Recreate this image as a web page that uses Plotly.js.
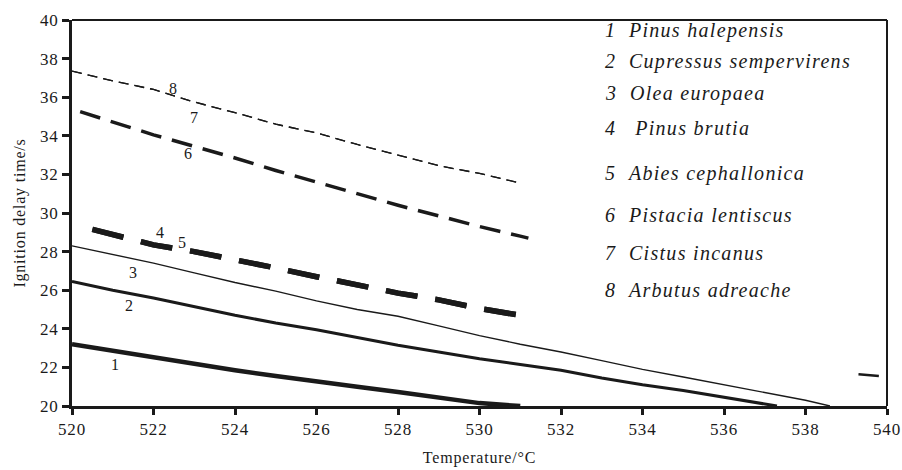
<!DOCTYPE html>
<html>
<head>
<meta charset="utf-8">
<script src="https://cdn.plot.ly/plotly-3.0.1.min.js"></script>
<style>
html,body{margin:0;padding:0;background:#fff;}
#chart .annotation-text.leg{letter-spacing:1.3px;}
#chart .xtitle, #chart .ytitle{letter-spacing:0.8px;}
#chart .xtick text, #chart .ytick text{letter-spacing:0.8px;}
</style>
</head>
<body>
<div id="chart" style="width:902px;height:470px;"></div>
<script>
// Data
const x1 = [520, 521, 522, 523, 524, 525, 526, 527, 528, 529, 530, 531];
const y1 = [23.2, 22.85, 22.55, 22.2, 21.85, 21.55, 21.3, 21.0, 20.73, 20.45, 20.15, 20.0];

const x2 = [520, 521, 522, 523, 524, 525, 526, 527, 528, 529, 530, 531, 532, 533, 534, 535, 536, 537, 537.3];
const y2 = [26.45, 26.0, 25.6, 25.15, 24.7, 24.3, 23.95, 23.55, 23.15, 22.8, 22.45, 22.15, 21.85, 21.45, 21.1, 20.8, 20.45, 20.1, 20.0];

const x3 = [520, 521, 522, 523, 524, 525, 526, 527, 528, 529, 530, 531, 532, 533, 534, 535, 536, 537, 538, 538.6];
const y3 = [28.3, 27.85, 27.4, 26.9, 26.4, 25.95, 25.45, 25.0, 24.65, 24.15, 23.65, 23.2, 22.8, 22.35, 21.9, 21.5, 21.1, 20.7, 20.3, 20.0];

const x4 = [520.5, 521, 522, 523, 524, 525, 526, 527, 528, 529, 530, 531, 531.1];
const y4 = [29.15, 28.9, 28.35, 28.0, 27.6, 27.15, 26.7, 26.25, 25.85, 25.5, 25.05, 24.7, 24.65];
const x5 = x4;
const y5 = y4;

const x6 = [520.2, 521, 522, 523, 524, 525, 526, 527, 528, 529, 530, 531, 531.2];
const y6 = [35.25, 34.7, 34.05, 33.45, 32.85, 32.2, 31.6, 31.0, 30.4, 29.85, 29.3, 28.8, 28.7];

const x8 = [520, 521, 522, 523, 524, 525, 526, 527, 528, 529, 530, 531];
const y8 = [37.35, 36.85, 36.4, 35.75, 35.2, 34.6, 34.15, 33.55, 33.0, 32.45, 32.05, 31.55];
const x7 = x8;
const y7 = y8;

const xMark = [539.3, 539.8];
const yMark = [21.65, 21.55];

const lineLabels = ['1', '2', '3', '4', '5', '6', '7', '8'];
const labelX = [521.06, 521.4, 521.5, 522.15, 522.7, 522.85, 523.0, 522.48];
const labelY = [22.15, 25.23, 26.9, 28.97, 28.47, 33.08, 34.95, 36.45];

const legendNames = ['1  Pinus halepensis', '2  Cupressus sempervirens', '3  Olea europaea', '4   Pinus brutia',
  '5  Abies cephallonica', '6  Pistacia lentiscus', '7  Cistus incanus', '8  Arbutus adreache'];
const legendY = [31, 61.5, 93, 128, 173, 215, 253, 290]; // pixel rows of legend entries

const xTicks = [520, 522, 524, 526, 528, 530, 532, 534, 536, 538, 540];
const yTicks = [20, 22, 24, 26, 28, 30, 32, 34, 36, 38, 40];

const ink = '#1a1a1a';
const font = 'Liberation Serif';

function tr(x, y, w, dash) {
  return {x: x, y: y, mode: 'lines', type: 'scatter', showlegend: false, hoverinfo: 'skip',
    line: {color: ink, width: w, dash: dash}};
}

const data = [
  tr(x1, y1, 4.5, 'solid'),
  tr(x2, y2, 3, 'solid'),
  tr(x3, y3, 1.4, 'solid'),
  tr(x4, y4, 5.5, '32px,18px'),
  tr(x5, y5, 5.5, '32px,18px'),
  tr(x6, y6, 3.5, '21px,11px'),
  tr(x7, y7, 1.3, '10px,6px'),
  tr(x8, y8, 1.3, '10px,6px'),
  tr(xMark, yMark, 2.5, 'solid')
];

const H = 470, T = 20, B = 64;
const plotH = H - T - B;
const annotations = [];
for (let i = 0; i < lineLabels.length; i++) {
  annotations.push({x: labelX[i], y: labelY[i], xref: 'x', yref: 'y', text: lineLabels[i], showarrow: false,
    font: {family: font, size: 16, color: ink}});
}
for (let i = 0; i < legendNames.length; i++) {
  annotations.push({x: 0.652, y: 1 - (legendY[i] - T) / plotH, xref: 'paper', yref: 'paper',
    xanchor: 'left', yanchor: 'middle', align: 'left',
    text: '<i>' + legendNames[i].replace(/ /g, '&nbsp;') + '</i>', showarrow: false,
    font: {family: font, size: 20, color: ink}});
}

const layout = {
  width: 902, height: 470,
  margin: {l: 72, r: 15, t: T, b: B},
  paper_bgcolor: '#fff', plot_bgcolor: '#fff',
  font: {family: font, color: ink},
  xaxis: {range: [520, 540], tickvals: xTicks, ticktext: xTicks.map(String), showgrid: false, zeroline: false,
    showline: true, linecolor: ink, linewidth: 3, ticks: 'outside', ticklen: 6, tickwidth: 3, tickcolor: ink,
    tickfont: {family: font, size: 17, color: ink},
    title: {text: 'Temperature/°C', font: {family: font, size: 16, color: ink}, standoff: 14}},
  yaxis: {range: [20, 40], tickvals: yTicks, ticktext: yTicks.map(String), showgrid: false, zeroline: false,
    showline: true, linecolor: ink, linewidth: 3, ticks: 'outside', ticklen: 7, tickwidth: 3, tickcolor: ink,
    tickfont: {family: font, size: 17, color: ink},
    title: {text: 'Ignition delay time/s', font: {family: font, size: 16, color: ink}, standoff: 12}},
  shapes: [
    {type: 'line', xref: 'paper', yref: 'paper', x0: 0, x1: 1, y0: 1, y1: 1, line: {color: ink, width: 2}},
    {type: 'line', xref: 'paper', yref: 'paper', x0: 1, x1: 1, y0: 0, y1: 1, line: {color: ink, width: 2}}
  ],
  annotations: annotations
};

Plotly.newPlot('chart', data, layout, {displayModeBar: false, staticPlot: true}).then(function (gd) {
  // widen legend text spacing like the reference typesetting
  const nodes = gd.querySelectorAll('.annotation-text');
  nodes.forEach(function (n) {
    if (n.textContent.length > 2) { n.classList.add('leg'); }
  });
});
</script>
</body>
</html>
